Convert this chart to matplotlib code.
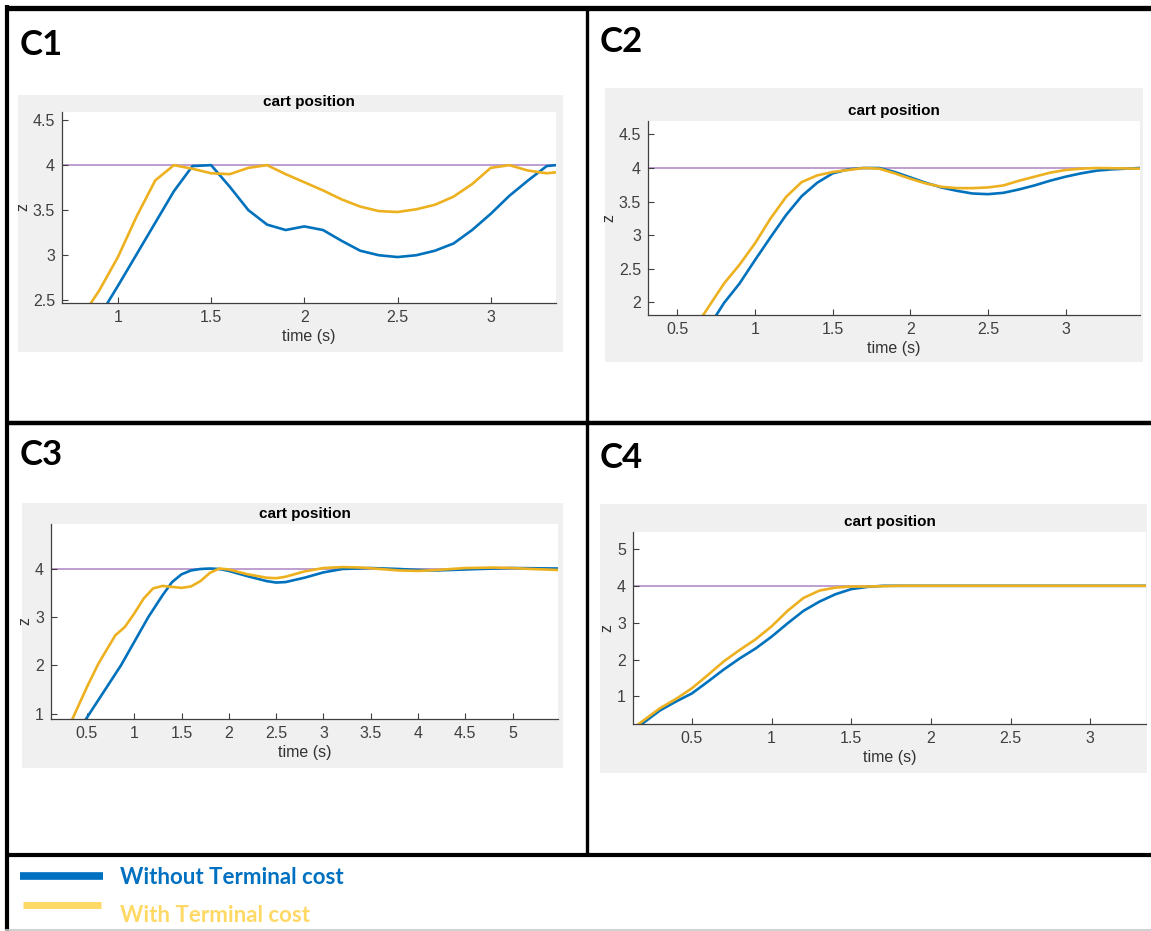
import matplotlib
matplotlib.use("Agg")
import matplotlib.pyplot as plt
from matplotlib.patches import Rectangle
from matplotlib.lines import Line2D

W, H = 1151, 931

# ---- data ----
c1_t_blue = [0.90, 1.0, 1.1, 1.2, 1.3, 1.4, 1.5, 1.6, 1.7, 1.8, 1.9, 2.0, 2.1, 2.2, 2.3, 2.4, 2.5, 2.6, 2.7, 2.8, 2.9, 3.0, 3.1, 3.2, 3.3, 3.35]
c1_z_blue = [2.32, 2.66, 3.01, 3.36, 3.71, 3.99, 4.0, 3.76, 3.5, 3.34, 3.28, 3.32, 3.28, 3.16, 3.05, 3.0, 2.98, 3.0, 3.05, 3.13, 3.28, 3.46, 3.66, 3.83, 3.99, 4.0]
c1_t_yel = [0.82, 0.9, 1.0, 1.1, 1.2, 1.3, 1.4, 1.5, 1.6, 1.7, 1.8, 1.9, 2.0, 2.1, 2.2, 2.3, 2.4, 2.5, 2.6, 2.7, 2.8, 2.9, 3.0, 3.1, 3.2, 3.3, 3.35]
c1_z_yel = [2.36, 2.61, 2.98, 3.43, 3.83, 4.0, 3.96, 3.91, 3.9, 3.97, 4.0, 3.9, 3.81, 3.72, 3.62, 3.54, 3.49, 3.48, 3.51, 3.56, 3.65, 3.79, 3.97, 4.0, 3.94, 3.91, 3.92]

c2_t_blue = [0.72, 0.8, 0.9, 1.0, 1.1, 1.2, 1.3, 1.4, 1.5, 1.6, 1.7, 1.8, 1.9, 2.0, 2.1, 2.2, 2.3, 2.4, 2.5, 2.6, 2.7, 2.8, 2.9, 3.0, 3.1, 3.2, 3.3, 3.48]
c2_z_blue = [1.70, 1.99, 2.28, 2.63, 2.97, 3.3, 3.58, 3.78, 3.92, 3.98, 4.0, 4.0, 3.94, 3.86, 3.78, 3.71, 3.66, 3.62, 3.61, 3.63, 3.68, 3.74, 3.81, 3.87, 3.92, 3.96, 3.98, 4.0]
c2_t_yel = [0.64, 0.8, 0.9, 1.0, 1.1, 1.2, 1.3, 1.4, 1.5, 1.6, 1.7, 1.8, 1.9, 2.0, 2.1, 2.2, 2.3, 2.4, 2.5, 2.6, 2.7, 2.8, 2.9, 3.0, 3.1, 3.2, 3.48]
c2_z_yel = [1.72, 2.28, 2.56, 2.88, 3.25, 3.57, 3.79, 3.89, 3.94, 3.97, 4.0, 3.99, 3.92, 3.84, 3.77, 3.72, 3.7, 3.7, 3.71, 3.74, 3.81, 3.87, 3.93, 3.97, 3.99, 4.0, 3.99]

c3_t_blue = [0.47, 0.86, 1.15, 1.3, 1.4, 1.5, 1.6, 1.7, 1.8, 1.9, 2.0, 2.2, 2.4, 2.5, 2.6, 2.8, 3.0, 3.2, 3.5, 3.8, 4.0, 4.2, 4.5, 4.8, 5.0, 5.48]
c3_z_blue = [0.83, 2.0, 3.0, 3.45, 3.72, 3.88, 3.96, 3.99, 4.0, 3.99, 3.95, 3.84, 3.74, 3.71, 3.72, 3.81, 3.92, 3.99, 4.01, 3.99, 3.97, 3.96, 3.98, 4.0, 4.01, 4.0]
c3_t_yel = [0.33, 0.5, 0.62, 0.8, 0.9, 1.0, 1.1, 1.2, 1.3, 1.4, 1.5, 1.6, 1.7, 1.8, 1.9, 2.0, 2.2, 2.4, 2.5, 2.6, 2.8, 3.0, 3.2, 3.4, 3.6, 3.8, 4.0, 4.2, 4.5, 4.8, 5.0, 5.2, 5.48]
c3_z_yel = [0.82, 1.55, 2.03, 2.62, 2.79, 3.07, 3.38, 3.59, 3.64, 3.62, 3.6, 3.63, 3.74, 3.91, 4.0, 3.98, 3.88, 3.81, 3.8, 3.83, 3.94, 4.01, 4.03, 4.02, 3.99, 3.96, 3.95, 3.97, 4.01, 4.02, 4.01, 3.99, 3.97]

c4_t_blue = [0.17, 0.3, 0.4, 0.5, 0.6, 0.7, 0.8, 0.9, 1.0, 1.1, 1.2, 1.3, 1.4, 1.5, 1.6, 1.7, 3.35]
c4_z_blue = [0.2, 0.62, 0.86, 1.08, 1.4, 1.73, 2.03, 2.3, 2.62, 2.98, 3.32, 3.57, 3.77, 3.91, 3.97, 4.0, 4.0]
c4_t_yel = [0.15, 0.3, 0.4, 0.5, 0.6, 0.7, 0.8, 0.9, 1.0, 1.1, 1.2, 1.3, 1.4, 1.5, 1.6, 1.8, 3.35]
c4_z_yel = [0.2, 0.68, 0.93, 1.22, 1.58, 1.95, 2.26, 2.55, 2.9, 3.32, 3.67, 3.87, 3.95, 3.98, 3.98, 4.0, 4.0]

target = 4.0
legend_labels = ["Without Terminal cost", "With Terminal cost"]

BLUE = "#0072BD"
YELLOW = "#EDB120"
PURPLE = "#B48CC8"
PANEL_BG = "#F0F0F0"
TICK_FONT = ["Liberation Sans Narrow", "Liberation Sans", "DejaVu Sans"]

# name, label pos, gray panel box, axes box (pixels), xlim, ylim, xticks, yticks, data
panels = [
    ("C1", (20, 45), (18, 95, 563, 352), (62, 112, 556, 303), (0.70, 3.35), (2.47, 4.59),
     [1, 1.5, 2, 2.5, 3], [2.5, 3, 3.5, 4, 4.5],
     (c1_t_blue, c1_z_blue, c1_t_yel, c1_z_yel)),
    ("C2", (600, 42), (605, 88, 1143, 362), (648, 121, 1140, 315), (0.31, 3.48), (1.81, 4.70),
     [0.5, 1, 1.5, 2, 2.5, 3], [2, 2.5, 3, 3.5, 4, 4.5],
     (c2_t_blue, c2_z_blue, c2_t_yel, c2_z_yel)),
    ("C3", (20, 455), (22, 503, 563, 768), (51, 524, 558, 719), (0.12, 5.48), (0.89, 4.92),
     [0.5, 1, 1.5, 2, 2.5, 3, 3.5, 4, 4.5, 5], [1, 2, 3, 4],
     (c3_t_blue, c3_z_blue, c3_t_yel, c3_z_yel)),
    ("C4", (600, 458), (600, 504, 1147, 773), (633, 532, 1146, 724), (0.13, 3.35), (0.25, 5.46),
     [0.5, 1, 1.5, 2, 2.5, 3], [1, 2, 3, 4, 5],
     (c4_t_blue, c4_z_blue, c4_t_yel, c4_z_yel)),
]


def box(x0, y0, x1, y1):
    return [x0 / W, 1 - y1 / H, (x1 - x0) / W, (y1 - y0) / H]


def hline(fig, y, x0, x1, lw, color="black"):
    fig.add_artist(Line2D([x0 / W, x1 / W], [1 - y / H, 1 - y / H], lw=lw, color=color,
                          transform=fig.transFigure, solid_capstyle="butt"))


def vline(fig, x, y0, y1, lw, color="black"):
    fig.add_artist(Line2D([x / W, x / W], [1 - y0 / H, 1 - y1 / H], lw=lw, color=color,
                          transform=fig.transFigure, solid_capstyle="butt"))


fig = plt.figure(figsize=(W / 100, H / 100), dpi=100)
fig.patch.set_facecolor("white")

for name, lab, gbox, abox, xlim, ylim, xt, yt, (tb, zb, ty, zy) in panels:
    gx0, gy0, gx1, gy1 = gbox
    fig.add_artist(Rectangle((gx0 / W, 1 - gy1 / H), (gx1 - gx0) / W, (gy1 - gy0) / H,
                             transform=fig.transFigure, facecolor=PANEL_BG, edgecolor="none", zorder=0))
    fig.text(lab[0] / W, 1 - lab[1] / H, name, fontsize=25, fontweight="bold",
             family=["Lato", "DejaVu Sans"], va="center", ha="left")

    ax = fig.add_axes(box(*abox))
    ax.plot(tb, zb, color=BLUE, lw=1.9)
    ax.plot(ty, zy, color=YELLOW, lw=1.9)
    ax.axhline(target, color=PURPLE, lw=1.2, zorder=1)
    ax.set_xlim(*xlim)
    ax.set_ylim(*ylim)
    ax.set_xticks(xt)
    ax.set_yticks(yt)
    ax.set_xticklabels([f"{v:g}" for v in xt], family=TICK_FONT, fontsize=11.5, color="#404040")
    ax.set_yticklabels([f"{v:g}" for v in yt], family=TICK_FONT, fontsize=11.5, color="#404040")
    ax.tick_params(direction="in", length=4, width=0.8, color="#404040", pad=5)
    for s in ("top", "right"):
        ax.spines[s].set_visible(False)
    for s in ("left", "bottom"):
        ax.spines[s].set_color("#404040")
        ax.spines[s].set_linewidth(0.9)
    ax.set_title("cart position", family=TICK_FONT, fontsize=11, fontweight="bold", pad=4)
    ax.set_xlabel("time (s)", family=TICK_FONT, fontsize=11.5, color="#333333", labelpad=3)
    ax.set_ylabel("z", family=TICK_FONT, fontsize=11.5, color="#333333", labelpad=2)

# frame lines
hline(fig, 7.5, 5, W, 3.8)
vline(fig, 6.5, 5, H, 3.0)
vline(fig, 586.5, 7, 855, 2.4)
hline(fig, 422.5, 5, W, 3.2)
hline(fig, 855, 5, W, 3.0)
hline(fig, 930, 5, W, 1.2, color="#C8C8C8")

# legend
hline(fig, 876, 20, 103, 5.5, color="#0070C0")
hline(fig, 905, 23, 101, 5.0, color="#FFD966")
fig.text(120 / W, 1 - 877 / H, legend_labels[0], fontsize=16, fontweight="bold",
         family=["Lato", "DejaVu Sans"], color="#0070C0", va="center", ha="left")
fig.text(120 / W, 1 - 916 / H, legend_labels[1], fontsize=16, fontweight="bold",
         family=["Lato", "DejaVu Sans"], color="#FFD966", va="center", ha="left")

fig.savefig("out.png", dpi=100, facecolor="white")
